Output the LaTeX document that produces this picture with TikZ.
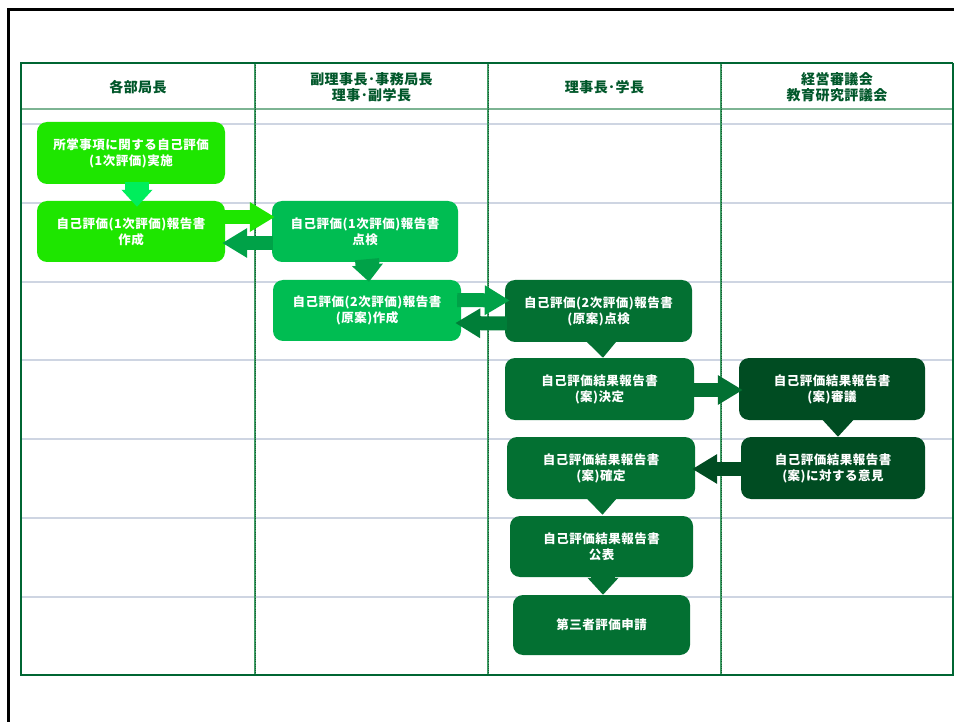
\documentclass[tikz,border=0pt]{standalone}
\usepackage{fontspec}
\setmainfont{Noto Sans CJK JP}
\usetikzlibrary{arrows.meta,calc}

% palette
\definecolor{gBright}{RGB}{30,230,0}
\definecolor{gMint}{RGB}{0,238,92}
\definecolor{gMid}{RGB}{0,189,82}
\definecolor{gMidDark}{RGB}{0,162,72}
\definecolor{gDeepArrow}{RGB}{0,126,56}
\definecolor{gDark}{RGB}{3,112,50}
\definecolor{gDarkest}{RGB}{0,76,34}
\definecolor{headGreen}{RGB}{0,87,42}
\definecolor{tableGreen}{RGB}{0,102,51}
\definecolor{headRule}{RGB}{125,180,147}
\definecolor{rowRule}{RGB}{206,213,226}
\definecolor{laneLine}{RGB}{62,158,100}
\definecolor{laneDots}{RGB}{24,90,52}

\begin{document}
\begin{tikzpicture}[x=1pt,y=-1pt,
  stepbox/.style={rounded corners=10pt, inner sep=0pt, align=center, text=white,
    font=\bfseries\fontsize{12.5}{16}\selectfont\addfontfeature{LetterSpace=4}},
  lanehead/.style={align=center, text=headGreen, inner sep=0pt,
    font=\bfseries\fontsize{14}{16}\selectfont\addfontfeature{LetterSpace=3}},
  harrow/.style={line width=14pt, -{Triangle[length=25pt,width=28pt]}},
  varrow/.style={line width=24pt, -{Triangle[length=17pt,width=30pt]}},
  lanerule/.style={draw=laneLine, line width=1.6pt},
  lanedots/.style={draw=laneDots, line width=0.7pt, dash pattern=on 1pt off 1.2pt},
]
\useasboundingbox (0,0) rectangle (954,722);
\fill[white] (0,0) rectangle (954,722);

% page frame
\draw[black, line width=3pt] (8,722) -- (8,10) -- (954,10);

% swimlane grid
\foreach \ry in {124,203,282,360,439,518,597}
  \draw[rowRule, line width=2pt] (21,\ry) -- (953,\ry);
\draw[headRule, line width=1.5pt] (21,109) -- (953,109);
\foreach \cx in {255,488,721} {
  \draw[lanerule] (\cx,63) -- (\cx,675);
  \draw[lanedots] (\cx,63) -- (\cx,675);
}
\draw[tableGreen, line width=1.2pt] (21,675) -- (21,63) -- (953,63);
\draw[tableGreen, line width=2pt] (953,63) -- (953,675);
\draw[tableGreen, line width=2.5pt] (20,675) -- (954,675);

% lane titles
\node[lanehead] (h1) at (138,87) {各部局長};
\node[lanehead] (h2) at (371.5,87) {副理事長･事務局長\\理事･副学長};
\node[lanehead] (h3) at (604.5,87) {理事長･学長};
\node[lanehead] (h4) at (837,87) {経営審議会\\教育研究評議会};

% process steps
\node[stepbox, fill=gBright, minimum width=188pt, minimum height=62pt] (b1) at (131,153)
  {所掌事項に関する自己評価\\(1次評価)実施};
\node[stepbox, fill=gBright, minimum width=188pt, minimum height=61pt] (b2) at (131,231.5)
  {自己評価(1次評価)報告書\\作成};
\node[stepbox, fill=gMid, minimum width=186pt, minimum height=61pt] (b3) at (365,231.5)
  {自己評価(1次評価)報告書\\点検};
\node[stepbox, fill=gMid, minimum width=188pt, minimum height=61pt] (b4) at (367,310.5)
  {自己評価(2次評価)報告書\\(原案)作成};
\node[stepbox, fill=gDark, minimum width=187pt, minimum height=62pt] (b5) at (598.5,311)
  {自己評価(2次評価)報告書\\(原案)点検};
\node[stepbox, fill=gDark, minimum width=189pt, minimum height=62pt] (b6) at (599.5,389)
  {自己評価結果報告書\\(案)決定};
\node[stepbox, fill=gDarkest, minimum width=186pt, minimum height=62pt] (b7) at (832,389)
  {自己評価結果報告書\\(案)審議};
\node[stepbox, fill=gDarkest, minimum width=184pt, minimum height=62pt] (b8) at (833,468)
  {自己評価結果報告書\\(案)に対する意見};
\node[stepbox, fill=gDark, minimum width=188pt, minimum height=62pt] (b9) at (601,468)
  {自己評価結果報告書\\(案)確定};
\node[stepbox, fill=gDark, minimum width=183pt, minimum height=61pt] (b10) at (601.5,546.5)
  {自己評価結果報告書\\公表};
\node[stepbox, fill=gDark, minimum width=177pt, minimum height=60pt] (b11) at (601.5,625)
  {第三者評価申請};

% downward flow
\draw[varrow, gMint] ($(b1.south)+(6,-2)$) -- ($(b2.north)+(6,6)$);
\draw[varrow, gMidDark] ($(b3.south)+(2,-3)$) -- ($(b4.north)+(2,2)$);
\draw[varrow, gDark] ($(b5.south)+(3.5,-3)$) -- ($(b6.north)+(3.5,0)$);
\draw[varrow, gDarkest] ($(b7.south)+(6,-3)$) -- ($(b8.north)+(5,0)$);
\draw[varrow, gDark] ($(b9.south)+(1,-3)$) -- ($(b10.north)+(1,-1)$);
\draw[varrow, gDark] ($(b10.south)+(1.5,-3)$) -- ($(b11.north)+(1.5,0)$);

% hand-over and return between lanes
\draw[harrow, gBright] ($(b2.east)+(-3,-14.5)$) -- ($(b3.west)+(3,-14.5)$);
\draw[harrow, gMidDark] ($(b3.west)+(1,11.5)$) -- ($(b2.east)+(-3,11.5)$);
\draw[harrow, gMidDark] ($(b4.east)+(-4,-10.5)$) -- ($(b5.west)+(5,-10.5)$);
\draw[harrow, gDeepArrow] ($(b5.west)+(2,12.5)$) -- ($(b4.east)+(-6,12.5)$);
\draw[harrow, gDark] ($(b6.east)+(-1,1)$) -- ($(b7.west)+(4,1)$);
\draw[harrow, gDarkest] ($(b8.west)+(1,1)$) -- ($(b9.east)+(-3,1)$);
\end{tikzpicture}
\end{document}
